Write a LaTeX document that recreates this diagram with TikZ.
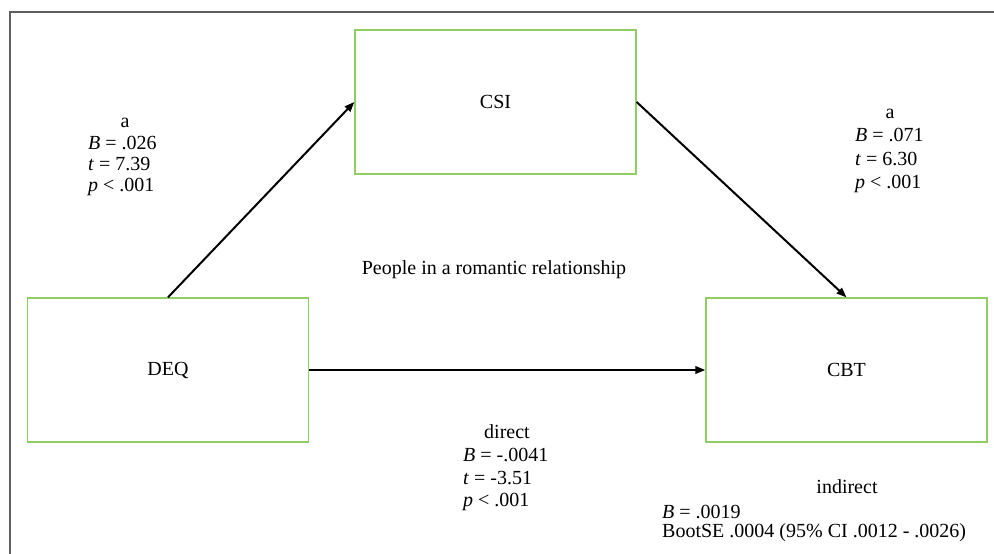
\documentclass[tikz,border=0pt]{standalone}
\usepackage{fontspec}
\setmainfont{Liberation Serif}
\usetikzlibrary{arrows.meta}
\definecolor{boxgreen}{RGB}{146,204,100}
\definecolor{framegray}{RGB}{95,95,95}
\begin{document}
\begin{tikzpicture}[x=1pt,y=-1pt,
  varbox/.style={draw=boxgreen,line width=1.3pt,minimum width=281pt,minimum height=144pt,inner sep=0pt,font=\fontsize{20}{22}\selectfont},
  lbl/.style={inner sep=0pt,font=\fontsize{20}{22}\selectfont},
  lblblock/.style={lbl,align=left,anchor=north west},
  conn/.style={line width=2pt,-{Triangle[length=10pt,width=7.5pt]}}]
\useasboundingbox (0,0) rectangle (994,554);
\draw[framegray,line width=2pt] (10,560) -- (10,12) -- (1000,12);
\node[varbox] (csi) at (495.5,102) {CSI};
\node[varbox] (deq) at (168,370) {DEQ};
\node[varbox] (cbt) at (846.5,370) {CBT};
\draw[conn] (deq.north) -- (csi.west);
\draw[conn] (csi.east) -- (cbt.north);
\draw[conn] (deq.east) -- (cbt.west);
\node[lbl] (la) at (125,123) {a};
\node[lblblock,font=\fontsize{20}{21}\selectfont] (lstats) at (88,136) {\textit{B} = .026\\\textit{t} = 7.39\\\textit{p} < .001};
\node[lbl] (ra) at (890,114) {a};
\node[lblblock,font=\fontsize{20}{23.5}\selectfont] (rstats) at (855,128) {\textit{B} = .071\\\textit{t} = 6.30\\\textit{p} < .001};
\node[lbl] (ctx) at (494,270) {People in a romantic relationship};
\node[lbl] (dir) at (507,432) {direct};
\node[lblblock,font=\fontsize{20}{22.5}\selectfont] (dstats) at (463,448) {\textit{B} = -.0041\\\textit{t} = -3.51\\\textit{p} < .001};
\node[lbl] (ind) at (847,487) {indirect};
\node[lblblock,font=\fontsize{20}{18.5}\selectfont] (istats) at (662,505) {\textit{B} = .0019\\BootSE .0004 (95\% CI .0012 - .0026)};
\end{tikzpicture}
\end{document}
